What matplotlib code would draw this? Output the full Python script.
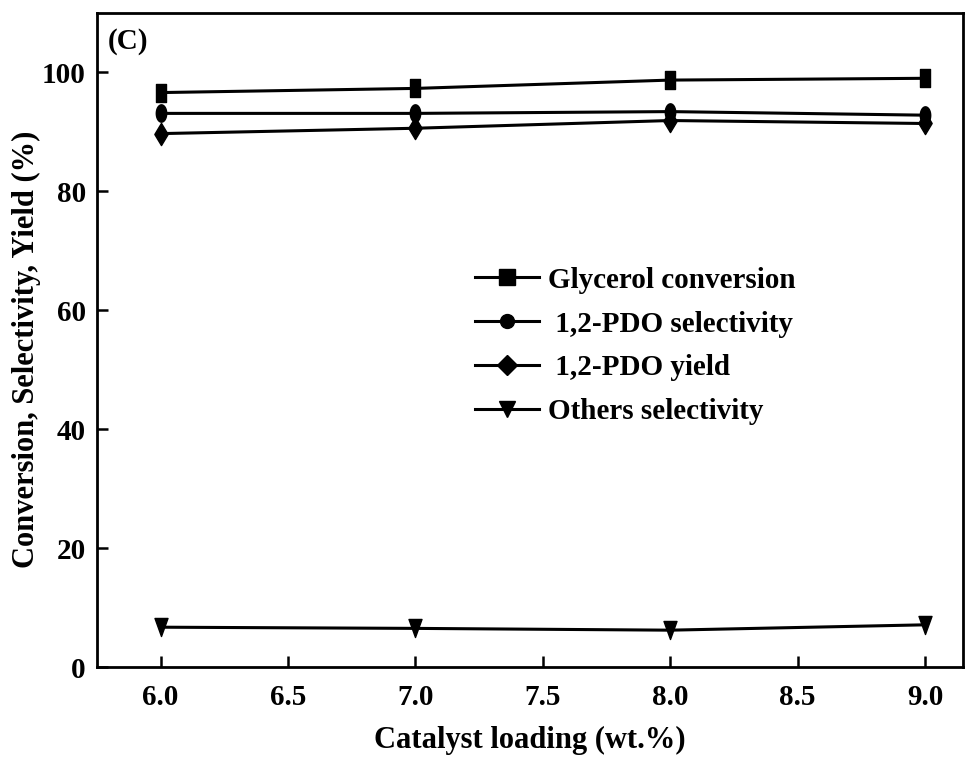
import numpy as np
import matplotlib.pyplot as plt
from matplotlib.path import Path
from matplotlib.lines import Line2D

plt.rcParams.update({
    "font.family": "Liberation Serif",
    "font.weight": "bold",
    "font.size": 20,
    "axes.labelweight": "bold",
    "axes.linewidth": 2.0,
})

# Catalyst loading series
loading = [6.0, 7.0, 8.0, 9.0]
glycerol_conversion = [96.6, 97.3, 98.7, 99.0]
pdo_selectivity = [93.1, 93.1, 93.4, 92.8]
pdo_yield = [89.7, 90.6, 91.9, 91.4]
others_selectivity = [6.7, 6.5, 6.2, 7.1]

labels = ["Glycerol conversion", " 1,2-PDO selectivity", " 1,2-PDO yield", "Others selectivity"]


# tall, narrow marker shapes for the data points
def tall_path(pts):
    return Path(pts + [pts[0]], [Path.MOVETO] + [Path.LINETO] * (len(pts) - 1) + [Path.CLOSEPOLY])


t = np.linspace(0, 2 * np.pi, 40, endpoint=False)
ellipse = tall_path([(0.3 * np.cos(a), 0.5 * np.sin(a)) for a in t])
rect = tall_path([(-0.28, -0.5), (0.28, -0.5), (0.28, 0.5), (-0.28, 0.5)])
diamond = tall_path([(0, -0.5), (0.3, 0), (0, 0.5), (-0.3, 0)])
tri_down = tall_path([(-0.36, 0.5), (0.36, 0.5), (0, -0.5)])

series = [
    (glycerol_conversion, rect, 12.5, "s", 11),
    (pdo_selectivity, ellipse, 12.5, "o", 10),
    (pdo_yield, diamond, 16, "D", 10),
    (others_selectivity, tri_down, 13, "v", 12),
]

fig = plt.figure(figsize=(9.69, 7.58), dpi=100)
ax = fig.add_axes([0.100, 0.120, 0.894, 0.863])

handles = []
for (vals, path, ms, lmk, lms), label in zip(series, labels):
    ax.plot(loading, vals, color="black", lw=2.2, marker=path, ms=ms)
    handles.append(Line2D([], [], color="black", lw=2.2, marker=lmk, ms=lms, label=label))

ax.set_xlim(5.75, 9.15)
ax.set_ylim(0, 110)
ax.set_xticks(np.arange(6.0, 9.01, 0.5))
ax.set_yticks(np.arange(0, 101, 20))
ax.xaxis.set_major_formatter(plt.FormatStrFormatter("%.1f"))
ax.tick_params(direction="in", length=8, width=1.8, labelsize=21)
ax.tick_params(axis="y", pad=8)
ax.tick_params(axis="x", pad=12)

ax.set_xlabel("Catalyst loading (wt.%)", fontsize=22, labelpad=11)
ax.set_ylabel("Conversion, Selectivity, Yield (%)", fontsize=22)
ax.yaxis.set_label_coords(-0.064, 0.485)
ax.text(0.012, 0.945, "(C)", transform=ax.transAxes, fontsize=21, fontweight="bold")

ax.legend(handles=handles, loc="upper left", bbox_to_anchor=(0.423, 0.63), frameon=False,
          fontsize=21, handlelength=2.2, labelspacing=0.58, handletextpad=0.3,
          borderaxespad=0)

fig.savefig("out.png", dpi=100)
